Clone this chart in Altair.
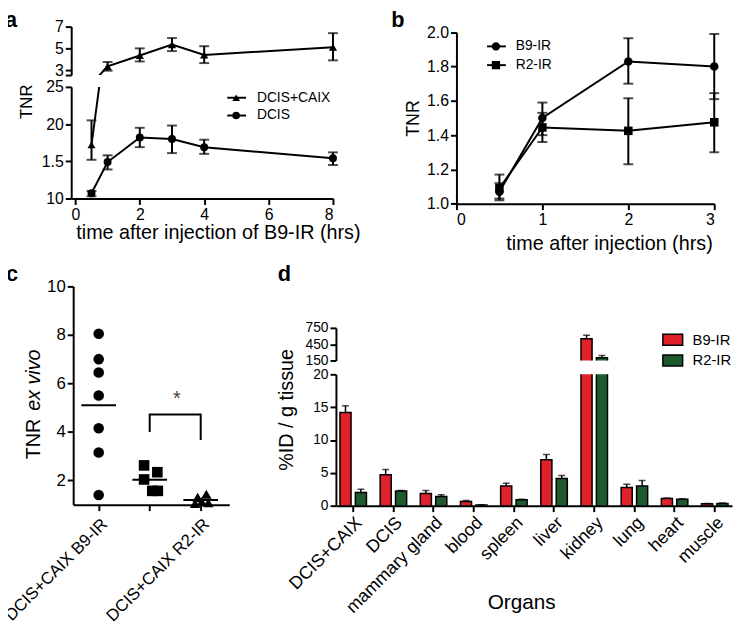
import altair as alt
import pandas as pd

FONT = "Liberation Sans"
RED = "#E0202B"
GREEN = "#1D5B2F"

# ---------------- panel a ----------------
a_time = [0.5, 1, 2, 3, 4, 8]
a_caix_mean = [1.72, 3.35, 4.35, 5.35, 4.4, 5.1]
a_caix_lo = [1.52, 2.95, 3.8, 4.75, 3.65, 3.9]
a_caix_hi = [2.05, 3.75, 5.0, 5.95, 5.2, 6.4]
a_dcis_mean = [1.07, 1.49, 1.82, 1.80, 1.69, 1.54]
a_dcis_lo = [1.03, 1.39, 1.69, 1.61, 1.60, 1.45]
a_dcis_hi = [1.10, 1.58, 1.95, 1.98, 1.79, 1.62]
a_series = ["DCIS+CAIX", "DCIS"]
a_top_domain = [2.55, 7]
a_bot_domain = [1.0, 2.5]
a_top_ticks = [2.55, 3, 5, 7]
a_bot_ticks = [1.0, 1.5, 2.0, 2.5]
a_bot_labels = ["10", "1.5", "20", "25"]
a_x_ticks = [0, 2, 4, 6, 8]

# ---------------- panel b ----------------
b_time = [0.5, 1, 2, 3]
b_b9_mean = [1.07, 1.50, 1.83, 1.80]
b_b9_lo = [1.02, 1.40, 1.70, 1.61]
b_b9_hi = [1.12, 1.59, 1.965, 1.99]
b_r2_mean = [1.09, 1.445, 1.425, 1.475]
b_r2_lo = [1.03, 1.36, 1.23, 1.30]
b_r2_hi = [1.17, 1.53, 1.615, 1.645]
b_series = ["B9-IR", "R2-IR"]

# ---------------- panel c ----------------
c_groups = ["DCIS+CAIX B9-IR", "DCIS B9-IR", "DCIS+CAIX R2-IR"]
c_g1 = [8.05, 7.0, 6.45, 5.5, 4.15, 3.15, 1.4]
c_g2 = [2.62, 2.34, 2.04, 1.57, 1.57]
c_g3 = [1.30, 1.43, 1.05, 1.12, 1.08]
c_jit1 = [0, 0, 0, 0, 0, 0, 0]
c_jit2 = [-0.11, 0.15, -0.11, 0.05, 0.16]
c_jit3 = [-0.06, 0.11, -0.11, 0.02, 0.15]
c_bracket_x = [2, 2, 3, 3]
c_bracket_y = [4.0, 4.72, 4.72, 3.67]
c_star = (2.53, 5.34)

# ---------------- panel d ----------------
organs = ["DCIS+CAIX", "DCIS", "mammary gland", "blood", "spleen",
          "liver", "kidney", "lung", "heart", "muscle"]
d_b9 = [14.2, 4.7, 1.85, 0.65, 3.0, 7.0, 550, 2.76, 1.1, 0.3]
d_b9_err = [1.0, 0.8, 0.45, 0.15, 0.4, 0.8, 65, 0.5, 0.08, 0.05]
d_r2 = [2.0, 2.25, 1.4, 0.12, 0.9, 4.15, 200, 3.0, 1.0, 0.35]
d_r2_err = [0.5, 0.05, 0.25, 0.03, 0.1, 0.45, 40, 0.85, 0.07, 0.05]
d_probes = ["B9-IR", "R2-IR"]


def txt(s, x, y, size=16, angle=0, align="center", baseline="middle",
        weight="normal", style="normal", color="black"):
    return alt.Chart(pd.DataFrame({"t": [s]})).mark_text(
        fontSize=size, angle=angle, align=align, baseline=baseline,
        fontWeight=weight, fontStyle=style, color=color, font=FONT
    ).encode(x=alt.value(x), y=alt.value(y), text="t:N")


def legend_entry(label, shape, x0, x1, xm, y, xt, size=60, fs=14):
    d = pd.DataFrame({"t": [label]})
    base = alt.Chart(d)
    r = base.mark_rule(color="black", strokeWidth=2).encode(
        x=alt.value(x0), x2=alt.value(x1), y=alt.value(y))
    p = base.mark_point(shape=shape, filled=True, color="black", opacity=1, size=size).encode(
        x=alt.value(xm), y=alt.value(y))
    t = base.mark_text(align="left", baseline="middle", fontSize=fs, font=FONT).encode(
        x=alt.value(xt), y=alt.value(y), text="t:N")
    return r + p + t


# ================= panel a =================
a_df = pd.DataFrame({
    "time": a_time * 2,
    "series": [a_series[0]] * 6 + [a_series[1]] * 6,
    "mean": a_caix_mean + a_dcis_mean,
    "lo": a_caix_lo + a_dcis_lo,
    "hi": a_caix_hi + a_dcis_hi,
})
ax_scale = alt.Scale(domain=[-0.13, 8], nice=False, zero=False)
A_W, A1_H, A2_H = 265, 49, 113

a1_x = alt.X("time:Q", scale=ax_scale, axis=None)
a1_ys = alt.Scale(domain=a_top_domain, nice=False, zero=False)
a1_yax = alt.Axis(values=a_top_ticks, title=None, labelFontSize=16,
                  labelExpr=f"datum.value < {a_top_ticks[1]} ? '' : datum.label")
a1_line = alt.Chart(a_df).transform_filter(alt.datum.series == a_series[0])
a1_pts = a1_line.transform_filter(alt.datum.mean >= a_top_domain[0])
A1 = alt.layer(
    a1_line.mark_line(color="black", strokeWidth=2, clip=True).encode(
        x=a1_x, y=alt.Y("mean:Q", scale=a1_ys, axis=a1_yax)),
    a1_pts.mark_errorbar(ticks=True, size=10, thickness=2, color="black").encode(
        x=a1_x, y=alt.Y("lo:Q", scale=a1_ys, axis=a1_yax), y2="hi:Q"),
    a1_pts.mark_point(shape="triangle-up", filled=True, color="black", opacity=1,
                      size=70).encode(
        x=a1_x, y=alt.Y("mean:Q", scale=a1_ys, axis=a1_yax)),
    txt("a", -67, 0, size=22, weight="bold", align="left", baseline="alphabetic"),
).properties(width=A_W, height=A1_H)

lab_expr = " : ".join(
    f"datum.value == {v} ? '{l}'" for v, l in zip(a_bot_ticks[:-1], a_bot_labels[:-1])
) + f" : '{a_bot_labels[-1]}'"
a2_xax = alt.Axis(values=a_x_ticks, title=None, labelFontSize=16)
a2_ys = alt.Scale(domain=a_bot_domain, nice=False, zero=False)
a2_yax = alt.Axis(values=a_bot_ticks, labelExpr=lab_expr, title=None, labelFontSize=16)
a2_x = alt.X("time:Q", scale=ax_scale, axis=a2_xax)
a2_line = alt.Chart(a_df)
a2_pts = a2_line.transform_filter(alt.datum.mean <= a_bot_domain[1])
A2 = alt.layer(
    a2_line.mark_line(color="black", strokeWidth=2, clip=True).encode(
        x=a2_x, y=alt.Y("mean:Q", scale=a2_ys, axis=a2_yax), detail="series:N"),
    a2_pts.mark_errorbar(ticks=True, size=10, thickness=2, color="black").encode(
        x=a2_x, y=alt.Y("lo:Q", scale=a2_ys, axis=a2_yax), y2="hi:Q"),
    a2_pts.mark_point(filled=True, color="black", opacity=1, size=65).encode(
        x=a2_x, y=alt.Y("mean:Q", scale=a2_ys, axis=a2_yax),
        shape=alt.Shape("series:N", scale=alt.Scale(domain=a_series,
                                                     range=["triangle-up", "circle"]), legend=None)),
    legend_entry(a_series[0], "triangle-up", 158, 177, 167, 11, 188),
    legend_entry(a_series[1], "circle", 158, 177, 167, 29, 188),
    txt("TNR", -45, 15, size=17, angle=270),
    txt("time after injection of B9-IR (hrs)", 149, 148, size=20),
).properties(width=A_W, height=A2_H)

A = alt.vconcat(A1, A2, spacing=12, bounds="flush").resolve_scale(
    x="independent", y="independent", shape="independent")

# ================= panel b =================
b_df = pd.DataFrame({
    "time": b_time * 2,
    "series": [b_series[0]] * 4 + [b_series[1]] * 4,
    "mean": b_b9_mean + b_r2_mean,
    "lo": b_b9_lo + b_r2_lo,
    "hi": b_b9_hi + b_r2_hi,
})
B_H = 179.3
bx_s = alt.Scale(domain=[0, 3], nice=False, zero=False)
bx_ax = alt.Axis(values=[0, 1, 2, 3], title=None, labelFontSize=16)
by_s = alt.Scale(domain=[1, 2], nice=False, zero=False, range=[B_H, 5.7])
by_ax = alt.Axis(values=[1.0, 1.2, 1.4, 1.6, 1.8, 2.0], format=".1f", title=None, labelFontSize=16)
bx = alt.X("time:Q", scale=bx_s, axis=bx_ax)
b_base = alt.Chart(b_df)
B = alt.layer(
    b_base.mark_line(color="black", strokeWidth=2).encode(
        x=bx, y=alt.Y("mean:Q", scale=by_s, axis=by_ax), detail="series:N"),
    b_base.mark_errorbar(ticks=True, size=10, thickness=2, color="black").encode(
        x=bx, y=alt.Y("lo:Q", scale=by_s, axis=by_ax), y2="hi:Q"),
    b_base.mark_point(filled=True, color="black", opacity=1, size=75).encode(
        x=bx, y=alt.Y("mean:Q", scale=by_s, axis=by_ax),
        shape=alt.Shape("series:N", scale=alt.Scale(domain=b_series,
                                                     range=["circle", "square"]), legend=None)),
    legend_entry(b_series[0], "circle", 31, 50, 40, 20, 60, size=70),
    legend_entry(b_series[1], "square", 31, 50, 40, 39, 60, size=70),
    txt("b", -66, 0, size=22, weight="bold", align="left", baseline="alphabetic"),
    txt("TNR", -43, 93, size=18, angle=270),
    txt("time after injection (hrs)", 155, 220, size=20),
).properties(width=261, height=B_H)

row1 = alt.hconcat(A, B, spacing=31).resolve_scale(
    x="independent", y="independent", shape="independent")

# ================= panel c =================
c_df = pd.DataFrame({
    "gid": [1] * len(c_g1) + [2] * len(c_g2) + [3] * len(c_g3),
    "value": c_g1 + c_g2 + c_g3,
    "jit": c_jit1 + c_jit2 + c_jit3,
})
c_df["group"] = [c_groups[g - 1] for g in c_df["gid"]]
c_lab_expr = " : ".join(f"datum.value == {i + 1} ? '{g}'" for i, g in enumerate(c_groups[:-1])) \
    + f" : '{c_groups[-1]}'"
C_W = 160
cx_s = alt.Scale(domain=[0.5, 3.56], nice=False, zero=False, range=[2, C_W])
cx_ax = alt.Axis(values=[1, 2, 3], labelExpr=c_lab_expr, labelAngle=-45, title=None,
                 labelFontSize=17, labelPadding=5)
cy_s = alt.Scale(domain=[1, 10], nice=False, zero=False)
cy_ax = alt.Axis(values=[2, 4, 6, 8, 10], title=None, labelFontSize=17, offset=-2)
cX = lambda f: alt.X(f, scale=cx_s, axis=cx_ax)
cY = lambda f: alt.Y(f, scale=cy_s, axis=cy_ax)
c_base = alt.Chart(c_df)
br_df = pd.DataFrame({"x": c_bracket_x, "y": c_bracket_y, "o": list(range(len(c_bracket_x)))})
C = alt.layer(
    c_base.transform_calculate(pos="datum.gid + datum.jit").mark_point(
        filled=True, color="black", opacity=1, size=115).encode(
        x=cX("pos:Q"), y=cY("value:Q"),
        shape=alt.Shape("group:N", scale=alt.Scale(domain=c_groups,
                                                    range=["circle", "square", "triangle-up"]),
                        legend=None)),
    c_base.transform_aggregate(m="mean(value)", groupby=["gid"]).transform_calculate(
        x1="datum.gid - 0.34", x2="datum.gid + 0.34").mark_rule(
        color="black", strokeWidth=2).encode(x=cX("x1:Q"), x2="x2:Q", y=cY("m:Q")),
    alt.Chart(br_df).mark_line(color="black", strokeWidth=2).encode(
        x=cX("x:Q"), y=cY("y:Q"), order="o:Q"),
    alt.Chart(pd.DataFrame({"x": [c_star[0]], "y": [c_star[1]], "t": ["*"]})).mark_text(
        fontSize=20, color="#444", font=FONT).encode(x=cX("x:Q"), y=cY("y:Q"), text="t:N"),
    txt("c", -66, -5, size=22, weight="bold", align="left", baseline="alphabetic"),
    txt("TNR", -38, 175, size=20, angle=270, align="left"),
    txt("ex vivo", -38, 126, size=20, angle=270, align="left", style="italic"),
).properties(width=C_W, height=221)

# ================= panel d =================
d_df = pd.DataFrame({
    "organ": organs * 2,
    "probe": [d_probes[0]] * len(organs) + [d_probes[1]] * len(organs),
    "value": d_b9 + d_r2,
    "err": d_b9_err + d_r2_err,
})
d_df["hi"] = d_df["value"] + d_df["err"]
dx_s = alt.Scale(domain=organs, paddingInner=0.34, paddingOuter=0.1)
dxo = alt.XOffset("probe:N", sort=d_probes, scale=alt.Scale(domain=d_probes, paddingInner=0.28))
dcol = alt.Color("probe:N", scale=alt.Scale(domain=d_probes, range=[RED, GREEN]), legend=None)


def d_layers(ys, yax, xax):
    dX = alt.X("organ:N", sort=organs, scale=dx_s, axis=xax)
    base = alt.Chart(d_df)
    return [
        base.mark_bar(stroke="black", strokeWidth=1.5, clip=True).encode(
            x=dX, xOffset=dxo, y=alt.Y("value:Q", scale=ys, axis=yax), y2=alt.datum(0), color=dcol),
        base.mark_rule(color="black", strokeWidth=1.5, clip=True).encode(
            x=dX, xOffset=dxo, y=alt.Y("value:Q", scale=ys, axis=yax), y2="hi:Q"),
        base.mark_tick(color="black", thickness=1.5, size=7, clip=True).encode(
            x=dX, xOffset=dxo, y=alt.Y("hi:Q", scale=ys, axis=yax)),
    ]


def legend_box(label, color, y):
    d = pd.DataFrame({"t": [label]})
    b = alt.Chart(d)
    return b.mark_rect(color=color, stroke="black", strokeWidth=1.5).encode(
        x=alt.value(331), x2=alt.value(351), y=alt.value(y - 5.5), y2=alt.value(y + 5.5)) + \
        b.mark_text(align="left", baseline="middle", fontSize=15, font=FONT).encode(
            x=alt.value(361), y=alt.value(y), text="t:N")


D1_H = 75
d1_ys = alt.Scale(domain=[150, 750], nice=False, zero=False, range=[D1_H, 42])
d1_yax = alt.Axis(values=[150, 450, 750], title=None, labelFontSize=14)
D1 = alt.layer(
    *d_layers(d1_ys, d1_yax, None),
    legend_box(d_probes[0], RED, 54),
    legend_box(d_probes[1], GREEN, 75),
    txt("d", -59, -5, size=22, weight="bold", align="left", baseline="alphabetic"),
).properties(width=401, height=D1_H)

d2_ys = alt.Scale(domain=[0, 20], nice=False, zero=False)
d2_yax = alt.Axis(values=[0, 5, 10, 15, 20], title=None, labelFontSize=14)
d2_xax = alt.Axis(labelAngle=-45, title=None, labelFontSize=18)
D2 = alt.layer(
    *d_layers(d2_ys, d2_yax, d2_xax),
    txt("%ID / g tissue", -49, 36, size=20, angle=270),
    txt("Organs", 188, 232, size=21),
).properties(width=401, height=133)

D = alt.vconcat(D1, D2, spacing=14, bounds="flush").resolve_scale(
    x="independent", y="independent", color="independent", xOffset="independent")

row2 = alt.hconcat(C, D, spacing=49).resolve_scale(
    x="independent", y="independent", shape="independent", color="independent")

chart = alt.vconcat(row1, row2, spacing=10).resolve_scale(
    x="independent", y="independent", shape="independent", color="independent"
).properties(
    padding={"left": -7, "top": -3, "right": 2, "bottom": 2}
).configure(font=FONT).configure_view(stroke=None).configure_axis(
    domainColor="black", domainWidth=2, tickColor="black", tickWidth=2, tickSize=6,
    labelColor="black", labelFont=FONT, titleFont=FONT, grid=False, labelPadding=2,
).configure_text(font=FONT)

chart.save("out.html", embed_options={"renderer": "svg", "actions": False})
